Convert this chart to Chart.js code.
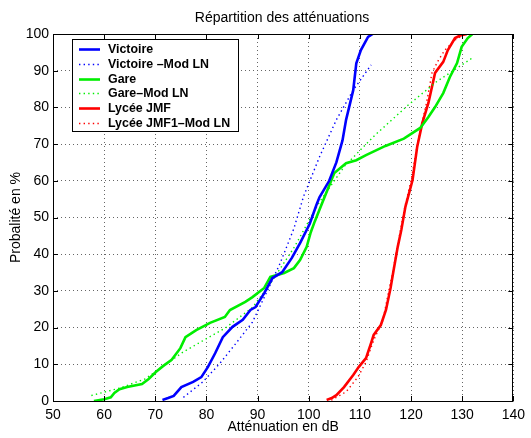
<!DOCTYPE html>
<html><head><meta charset="utf-8">
<script src="https://cdn.jsdelivr.net/npm/chart.js@4/dist/chart.umd.min.js"></script>
<style>html,body{margin:0;padding:0;background:#fff}</style>
</head><body>
<canvas id="c" width="531" height="438"></canvas>
<script>
const chartTitle = 'Répartition des atténuations';
const xTitle = 'Atténuation en dB';
const yTitle = 'Probalité en %';
const seriesLabels = ['Victoire', 'Victoire –Mod LN', 'Gare', 'Gare–Mod LN', 'Lycée JMF', 'Lycée JMF1–Mod LN'];

const victoireX = [71.4,72.5,73.6,75.1,77.4,79,80.3,81.7,83.2,85.1,87.1,88.6,89.6,91.3,92.9,94.8,96.7,98.3,100.2,101.5,102.1,104,105.4,106.6,107.3,108.7,109.3,110.2,111.6,112.5];
const victoireY = [0.3,0.8,1.4,3.8,5.2,6.5,9.3,13,17.4,20.2,22.1,24.8,25.6,29.4,33.5,35.1,39,43,48.3,53.4,55.5,60,65,71,76.6,84.7,92,95.6,99.2,100];

const victoireLnX = [75.5,79.3,82.6,85.7,89,91.9,94.4,97.1,99,102.1,105.4,108.7,112.2];
const victoireLnY = [1,5.2,10.2,15.6,21.5,30,37.5,47,55.8,66.5,76.6,84.7,91.6];

const gareX = [58,60,61.3,62,63,64.5,67.4,68.7,70.1,71.5,73.2,74.9,75.9,78,80.7,83.6,84.6,87.6,89,91.3,92.5,95.2,97.1,98.3,99.6,100.4,101.2,103.1,105,107.3,109.3,111.2,115,118.6,121.8,123.4,124.7,126.3,127.6,129,129.9,131.1,132];
const gareY = [0,0.5,1,2.2,3.2,3.8,4.6,6,7.9,9.5,11.2,14.4,17.4,19.3,21.3,22.9,24.8,27,28.3,30.8,33.8,34.9,36.2,38.4,42,46,49,55.6,62.1,64.8,65.6,67,69.5,71.5,74.4,77.4,80.1,83.9,88.3,92.1,96.5,98.9,100];

const gareLnX = [57.5,63,68,75.5,83.8,89,92,97,102,107,113,119.5,125,132];
const gareLnY = [1.5,3.5,6,13.4,20,25.5,31,41.5,54,64,72.5,80.7,87,93.5];

const lyceeX = [103.5,104.5,105.4,106.9,108.7,109.8,111.2,112.2,112.7,114.1,115.1,116,116.6,117.4,118.1,118.9,120.3,121.2,122.2,123.4,124.7,126.3,127.2,128.6,129.6,130.9];
const lyceeY = [0.3,0.8,1.6,3.8,7.1,9.3,11.7,15.8,18,20.7,24.8,30.8,35.7,42,46.6,52.9,60.2,69.2,75.7,81.2,89.4,92.4,95.6,98.9,99.6,100];

const lyceeLnX = [104.4,107.3,109.6,111.2,112.7,114.5,115.4,116.4,117.2,118,118.8,120,121,122,123,124.1,125.2,126.6,128.5,129.9];
const lyceeLnY = [0.2,2.5,6.5,10.6,16.6,22,28.3,34.9,41.1,47,53,60,68,75,81,89.4,92.5,95.6,98.3,99.4];

const seriesX = [victoireX, victoireLnX, gareX, gareLnX, lyceeX, lyceeLnX];
const seriesY = [victoireY, victoireLnY, gareY, gareLnY, lyceeY, lyceeLnY];
const seriesColors = ['#0000ff','#0000ff','#00ee00','#00ee00','#ff0000','#ff0000'];
const seriesDotted = [false,true,false,true,false,true];

const FONT = '"Liberation Sans", Arial, Helvetica, sans-serif';

const datasets = seriesX.map((xs, i) => ({
  label: seriesLabels[i],
  data: xs.map((x, j) => ({x, y: seriesY[i][j]})),
  borderColor: seriesColors[i],
  backgroundColor: seriesColors[i],
  borderWidth: seriesDotted[i] ? 1.4 : 2.6,
  borderDash: seriesDotted[i] ? [1.4, 3.2] : [],
  pointRadius: 0,
  tension: 0,
  fill: false
}));

const framePlugin = {
  id: 'frame',
  beforeDraw(chart) {
    const ctx = chart.ctx;
    ctx.save();
    ctx.fillStyle = '#fff';
    ctx.fillRect(0, 0, chart.width, chart.height);
    ctx.restore();
  },
  afterDraw(chart) {
    const ctx = chart.ctx;
    const a = chart.chartArea;
    const xs = chart.scales.x, ys = chart.scales.y;
    ctx.save();
    ctx.fillStyle = '#000';
    ctx.font = '14px ' + FONT;
    ctx.textAlign = 'center';
    ctx.textBaseline = 'alphabetic';
    ctx.fillText(chartTitle, 282, 21.5);
    ctx.strokeStyle = '#000';
    ctx.lineWidth = 1;
    ctx.setLineDash([]);
    ctx.strokeRect(Math.round(a.left) + 0.5, Math.round(a.top) + 0.5, Math.round(a.right - a.left) - 1, Math.round(a.bottom - a.top));
    const tl = 5;
    ctx.beginPath();
    xs.ticks.forEach(t => {
      const p = Math.round(xs.getPixelForValue(t.value)) + 0.5;
      ctx.moveTo(p, a.bottom); ctx.lineTo(p, a.bottom - tl);
      ctx.moveTo(p, a.top); ctx.lineTo(p, a.top + tl);
    });
    ys.ticks.forEach(t => {
      const p = Math.round(ys.getPixelForValue(t.value)) + 0.5;
      ctx.moveTo(a.left, p); ctx.lineTo(a.left + tl, p);
      ctx.moveTo(a.right, p); ctx.lineTo(a.right - tl, p);
    });
    ctx.stroke();
    const lx = 72.5, ly = 39.5, lw = 166, lh = 92;
    ctx.fillStyle = '#fff';
    ctx.fillRect(lx, ly, lw, lh);
    ctx.strokeStyle = '#000';
    ctx.strokeRect(lx, ly, lw, lh);
    ctx.font = 'bold 12.4px ' + FONT;
    ctx.textAlign = 'left';
    ctx.textBaseline = 'middle';
    chart.data.datasets.forEach((ds, i) => {
      const y = 49 + i * 14.8;
      ctx.strokeStyle = ds.borderColor;
      ctx.lineWidth = ds.borderWidth;
      ctx.setLineDash(ds.borderDash);
      ctx.beginPath();
      ctx.moveTo(79, Math.round(y) + 0.5);
      ctx.lineTo(100, Math.round(y) + 0.5);
      ctx.stroke();
      ctx.setLineDash([]);
      ctx.fillStyle = '#000';
      ctx.fillText(ds.label, 108, y + 0.5);
    });
    ctx.restore();
  }
};

new Chart(document.getElementById('c'), {
  type: 'line',
  data: { datasets },
  options: {
    responsive: false,
    animation: false,
    devicePixelRatio: 1,
    layout: { padding: { top: 34, right: 12, left: 0, bottom: 0 } },
    plugins: { legend: { display: false }, title: { display: false }, tooltip: { enabled: false } },
    scales: {
      x: {
        type: 'linear', min: 50, max: 140,
        afterFit: s => { s.height = 37; },
        ticks: { stepSize: 10, color: '#000', font: { family: FONT, size: 14 }, padding: 6, maxRotation: 0, autoSkip: false },
        grid: { color: '#666', lineWidth: 1, drawTicks: false },
        border: { display: false, dash: [1, 3] },
        title: { display: true, text: xTitle, color: '#000', font: { family: FONT, size: 14 }, padding: { top: 0, bottom: 2 } }
      },
      y: {
        type: 'linear', min: 0, max: 100,
        afterFit: s => { s.width = 53; },
        ticks: { stepSize: 10, color: '#000', font: { family: FONT, size: 14 }, padding: 4, autoSkip: false },
        grid: { color: '#666', lineWidth: 1, drawTicks: false },
        border: { display: false, dash: [1, 3] },
        title: { display: true, text: yTitle, color: '#000', font: { family: FONT, size: 14 }, padding: { top: 8, bottom: 0 } }
      }
    }
  },
  plugins: [framePlugin]
});
</script>
</body></html>
